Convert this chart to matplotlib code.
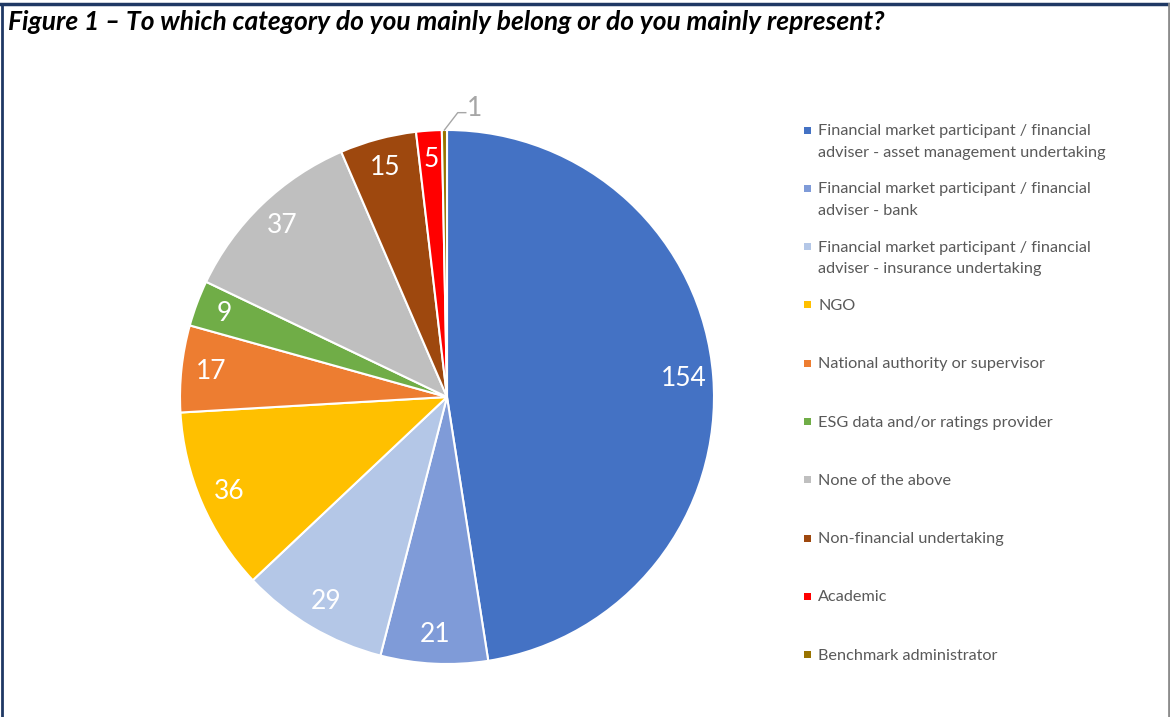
import numpy as np
import matplotlib.pyplot as plt
from matplotlib.lines import Line2D
from matplotlib.patches import Rectangle

categories = [
    "Financial market participant / financial\nadviser - asset management undertaking",
    "Financial market participant / financial\nadviser - bank",
    "Financial market participant / financial\nadviser - insurance undertaking",
    "NGO",
    "National authority or supervisor",
    "ESG data and/or ratings provider",
    "None of the above",
    "Non-financial undertaking",
    "Academic",
    "Benchmark administrator",
]
counts = [154, 21, 29, 36, 17, 9, 37, 15, 5, 1]
colors = ["#4472C4", "#7F9BD8", "#B4C7E7", "#FFC000", "#ED7D31",
          "#70AD47", "#BFBFBF", "#9E480E", "#FF0000", "#997300"]

title = "Figure 1 \u2013 To which category do you mainly belong or do you mainly represent?"

W, H = 1170, 717
fig = plt.figure(figsize=(W / 100, H / 100), dpi=100)
plt.rcParams['font.family'] = ['Lato', 'DejaVu Sans']

# pie centred at (447, 397) px, radius 267 px
cx, cy, r = 447, 397, 267
ax = fig.add_axes([(cx - r) / W, (H - cy - r) / H, 2 * r / W, 2 * r / H])

wedges, texts = ax.pie(counts, colors=colors, startangle=90, counterclock=False,
                       wedgeprops=dict(edgecolor="white", linewidth=1.5))
ax.set_xlim(-1, 1)
ax.set_ylim(-1, 1)

for w, v in zip(wedges, counts):
    if v < 2:
        continue
    ang = np.deg2rad((w.theta1 + w.theta2) / 2)
    ax.text(0.89 * np.cos(ang), 0.89 * np.sin(ang), str(v), ha="center", va="center",
            color="white", fontsize=19)

# small slice: label outside with leader line
w = wedges[-1]
ang = np.deg2rad((w.theta1 + w.theta2) / 2)
x0, y0 = np.cos(ang), np.sin(ang)
ax.plot([x0, x0 + 0.05, x0 + 0.08], [y0, y0 + 0.065, y0 + 0.065],
        color="#A6A6A6", lw=1, clip_on=False)
ax.text(x0 + 0.085, y0 + 0.08, str(counts[-1]), color="#A6A6A6", fontsize=19,
        ha="left", va="center", clip_on=False)

# legend drawn by hand so entries are evenly spaced like the original
for i, (lab, col) in enumerate(zip(categories, colors)):
    ytop = 130 + i * 58.3
    fig.add_artist(Rectangle((804 / W, (H - ytop - 3.5) / H), 7 / W, 7 / H,
                             transform=fig.transFigure, color=col, lw=0))
    fig.text(818 / W, (H - ytop + 6) / H, lab, color="#595959", fontsize=11.7,
             ha="left", va="top", linespacing=1.7)

fig.text(8 / W, (H - 30) / H, title, fontsize=19, fontweight="bold",
         fontstyle="italic", color="black", ha="left", va="baseline")

# frame around figure
fig.add_artist(Line2D([0, 1], [(H - 4) / H] * 2, color="#1F3864", lw=2.5,
                      transform=fig.transFigure))
fig.add_artist(Line2D([1.5 / W] * 2, [0, (H - 4) / H], color="#1F3864", lw=2,
                      transform=fig.transFigure))
fig.add_artist(Line2D([(W - 1.5) / W] * 2, [0, (H - 4) / H], color="#8C8C8C", lw=2,
                      transform=fig.transFigure))

fig.savefig("out.png", dpi=100)
